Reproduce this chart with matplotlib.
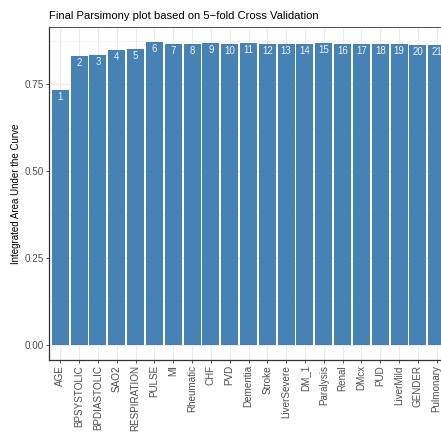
import matplotlib
matplotlib.use("Agg")
import matplotlib.pyplot as plt
from matplotlib.ticker import FixedLocator
import numpy as np

plt.rcParams['font.family'] = ['Liberation Sans', 'DejaVu Sans']

variables = ["AGE", "BPSYSTOLIC", "BPDIASTOLIC", "SAO2", "RESPIRATION", "PULSE", "MI",
             "Rheumatic", "CHF", "PVD", "Dementia", "Stroke", "LiverSevere", "DM_1",
             "Paralysis", "Renal", "DMcx", "PUD", "LiverMild", "GENDER", "Pulmonary"]
auc = [0.7336, 0.8308, 0.8336, 0.8481, 0.8510, 0.8711, 0.8654, 0.8654, 0.8683, 0.8654,
       0.8683, 0.8654, 0.8654, 0.8654, 0.8683, 0.8654, 0.8654, 0.8654, 0.8654, 0.8625, 0.8625]
step_labels = [str(i) for i in range(1, len(variables) + 1)]

W, H = 441, 434
fig = plt.figure(figsize=(W / 100, H / 100), dpi=100)
left, right, top, bottom = 49, 448, 27, 360
ax = fig.add_axes([left / W, 1 - bottom / H, (right - left) / W, (bottom - top) / H])

x = np.arange(len(variables))
ax.bar(x, auc, width=0.9, color="#4682B4", zorder=2)

for xi, v, lab in zip(x, auc, step_labels):
    ax.annotate(lab, xy=(xi, v), xytext=(0, -5.2), textcoords="offset points",
                ha="center", va="center", color="#F2F2F2", fontsize=7.0, zorder=3)

ymax = max(auc)
ax.set_ylim(-0.05 * ymax, ymax * 1.05)
ax.set_xlim(-0.6, len(variables) - 0.4)

ax.set_xticks(x)
ax.set_xticklabels(variables, rotation=90, fontsize=7.1, color="#4D4D4D")
ax.yaxis.set_major_locator(FixedLocator([0, 0.25, 0.5, 0.75]))
ax.set_yticklabels(["0.00", "0.25", "0.50", "0.75"], fontsize=7.1, color="#4D4D4D")
ax.yaxis.set_minor_locator(FixedLocator([0.125, 0.375, 0.625, 0.875]))
ax.tick_params(axis="both", which="major", length=2.2, width=0.6, color="#333333", pad=1.5)
ax.tick_params(axis="y", which="minor", length=0)

ax.grid(True, which="major", color="#EBEBEB", lw=0.8, zorder=0)
ax.grid(True, which="minor", axis="y", color="#EBEBEB", lw=0.4, zorder=0)
ax.set_axisbelow(True)

for s in ["left", "bottom"]:
    ax.spines[s].set_color("#333333")
    ax.spines[s].set_linewidth(0.9)
for s in ["top", "right"]:
    ax.spines[s].set_color("#4D4D4D")
    ax.spines[s].set_linewidth(0.7)

ax.set_ylabel("Integrated Area Under the Curve", fontsize=7.0, color="black", labelpad=2.5)
fig.text(left / W, 1 - 16 / H, "Final Parsimony plot based on 5\u2212fold Cross Validation",
         fontsize=8.1, ha="left", va="center", color="black")

fig.savefig("out.png", dpi=100)
